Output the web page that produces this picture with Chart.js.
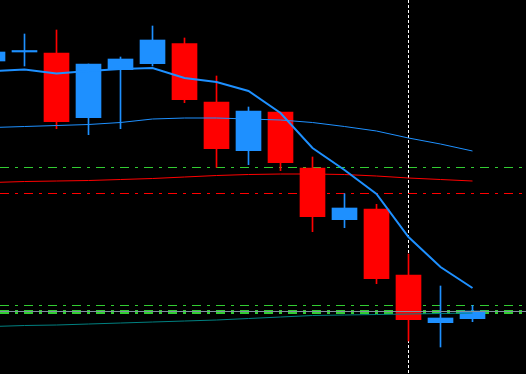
<!DOCTYPE html>
<html>
<head>
<meta charset="utf-8">
<script src="https://cdn.jsdelivr.net/npm/chart.js@4/dist/chart.umd.min.js"></script>
<style>
    html, body { margin: 0; padding: 0; background: #000; }
    canvas { display: block; }
</style>
</head>
<body>
<canvas id="chart" width="526" height="374"></canvas>
<script>
// candle data (price units, bar index 0..15)
const bars = [0, 1, 2, 3, 4, 5, 6, 7, 8, 9, 10, 11, 12, 13, 14, 15];
const open  = [313, 322, 321, 256.3, 304.3, 310.3, 330.3, 272, 223.3, 262, 206, 154.3, 165, 99, 51.3, 55.3];
const close = [322, 323.5, 252.3, 310, 315, 334, 274.3, 225.3, 263, 211.3, 157.3, 166, 95.3, 54.3, 56, 63];
const high  = [322, 340, 344, 310, 317, 348, 336, 298, 267, 262, 217, 180.3, 169.7, 120, 88, 68.7];
const low   = [313, 308, 245.3, 239.3, 245.3, 308, 271.3, 206.7, 209.3, 203.3, 142.3, 146.3, 90.3, 33, 27, 52.3];

// moving averages
const fastMA = [303, 304.5, 300.5, 303, 305, 306, 296, 292, 283, 261, 226, 204, 180, 137, 107, 86];
const slowMA = [246.5, 247.5, 248.5, 249.5, 251.5, 255, 256, 256, 255, 254, 251.5, 247.5, 243, 236, 230, 223];
const redMA  = [191.5, 192.5, 193, 193.5, 194.5, 195.5, 197, 198.5, 199.5, 200, 200, 199.5, 198, 196, 194.5, 193];
const tealMA = [47.5, 48.5, 49, 50, 51, 52, 53, 54, 55.5, 57, 58.5, 59, 59.5, 60, 60.5, 61];

// horizontal levels
const greenLevels = [206.5, 68.5];
const greenBand = 62;
const redLevel = 180.5;
const greyLevel = 62.5;
const cursorBar = 13;

const xMin = 0.234375;
const xMax = 16.671875;
const yMin = 0;
const yMax = 374;

const bull = "#1e90ff";
const bear = "#ff0000";
const candleColor = bars.map(i => close[i] >= open[i] ? bull : bear);

const series = (arr) => bars.map(i => ({ x: i, y: arr[i] }));
const level = (y) => [{ x: xMin, y: y }, { x: xMax, y: y }];

const lineSet = (data, color, width, order, dash) => ({
    type: "line",
    data: data,
    borderColor: color,
    borderWidth: width,
    borderDash: dash || [],
    pointRadius: 0,
    tension: 0,
    order: order
});

new Chart(
    document.getElementById("chart"),
    {
        type: "bar",
        data: {
            datasets: [
                lineSet(level(greenLevels[0]), "#32cd32", 1, 10, [9, 6, 3, 6]),
                lineSet(level(greenLevels[1]), "#32cd32", 1, 10, [9, 6, 3, 6]),
                lineSet(level(greenBand), "#32cd32", 4, 10, [9, 6, 3, 6]),
                lineSet(level(redLevel), "#ff0000", 1, 10, [9, 6, 3, 6]),
                lineSet([{ x: cursorBar, y: yMax }, { x: cursorBar, y: yMin }], "#ffffff", 1, 9, [3, 2]),
                {
                    // wicks
                    data: bars.map(i => ({ x: i, y: [low[i], high[i]] })),
                    backgroundColor: candleColor,
                    barThickness: 1,
                    grouped: false,
                    borderWidth: 0,
                    order: 8
                },
                {
                    // bodies
                    data: bars.map(i => ({ x: i, y: [open[i], close[i]] })),
                    backgroundColor: candleColor,
                    barThickness: 25,
                    grouped: false,
                    borderWidth: 0,
                    order: 7
                },
                lineSet(series(tealMA), "#008080", 1, 5),
                lineSet(series(redMA), "#ff0000", 1, 5),
                lineSet(series(slowMA), bull, 1, 5),
                lineSet(level(greyLevel), "#8090a0", 1, 4),
                lineSet(series(fastMA), bull, 2, 3)
            ]
        },
        options: {
            responsive: false,
            animation: false,
            layout: { padding: 0 },
            scales: {
                x: { type: "linear", min: xMin, max: xMax, offset: false, grid: { offset: false }, display: false },
                y: { type: "linear", min: yMin, max: yMax, display: false }
            },
            plugins: {
                legend: { display: false },
                tooltip: { enabled: false }
            }
        }
    }
);
</script>
</body>
</html>
